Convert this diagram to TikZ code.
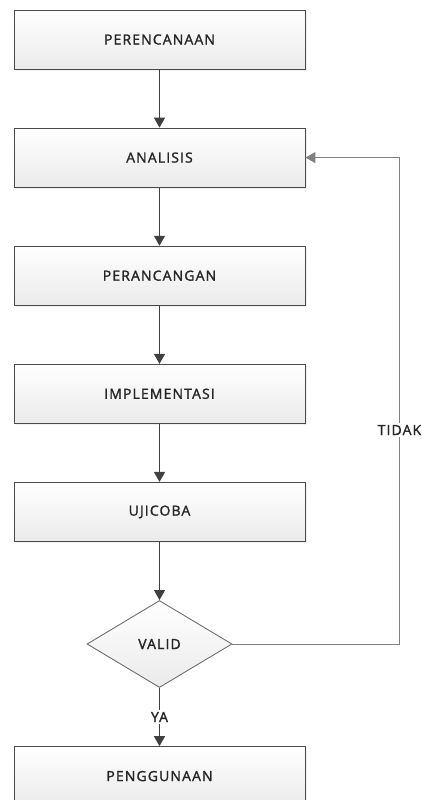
\documentclass[tikz,border=0pt]{standalone}
\usepackage{fontspec}
\setmainfont{Open Sans}[LetterSpace=8, FakeBold=1.6]
\usetikzlibrary{positioning,shadows,arrows.meta,shapes.geometric}
\definecolor{boxline}{HTML}{4A4A4A}
\definecolor{flowline}{HTML}{404040}
\definecolor{loopline}{HTML}{808080}
\definecolor{boxtext}{HTML}{262626}

\begin{document}
\begin{tikzpicture}
            [x=1pt, y=1pt, font=\fontsize{14}{16}\selectfont, text=boxtext,
            node distance=58.2pt,
            stepbox/.style={rectangle, draw=boxline, line width=0.9pt,
            top color=white, bottom color=black!8,
            minimum width=291pt, minimum height=59pt,
            drop shadow={shadow xshift=2pt, shadow yshift=-1.5pt, opacity=0.12}},
            checkbox/.style={diamond, draw=boxline!80, line width=0.9pt,
            top color=white, bottom color=black!8, inner sep=0pt,
            minimum width=145pt, minimum height=87pt},
            flow/.style={draw=flowline, line width=1.2pt, -{Triangle[width=11pt,length=10pt]}},
            back/.style={draw=loopline, line width=1pt, -{Triangle[width=11pt,length=10pt]}},
            answer/.style={fill=white, inner sep=2pt}]
            \useasboundingbox (0,0) rectangle (422,-800);
            % tahapan
            \node [stepbox] (perencanaan) at (159.5,-39.5) {PERENCANAAN};
            \node [stepbox, below=of perencanaan] (analisis) {ANALISIS};
            \node [stepbox, below=of analisis] (perancangan) {PERANCANGAN};
            \node [stepbox, below=of perancangan] (implementasi) {IMPLEMENTASI};
            \node [stepbox, below=of implementasi] (ujicoba) {UJICOBA};
            \node [checkbox, below=of ujicoba] (valid) {VALID};
            \node [stepbox, below=of valid] (penggunaan) {PENGGUNAAN};
            % alur
            \draw [flow] (perencanaan) -- (analisis);
            \draw [flow] (analisis) -- (perancangan);
            \draw [flow] (perancangan) -- (implementasi);
            \draw [flow] (implementasi) -- (ujicoba);
            \draw [flow] (ujicoba) -- (valid);
            \draw [flow] (valid) -- node [answer] (ya) {YA} (penggunaan);
            % kembali ke analisis
            \coordinate [right=167pt of valid.east] (loopbot);
            \draw [back] (valid.east) -- (loopbot)
                -- node [answer, pos=0.44] (tidak) {TIDAK} (loopbot |- analisis.east)
                -- (analisis.east);
\end{tikzpicture}
\end{document}
